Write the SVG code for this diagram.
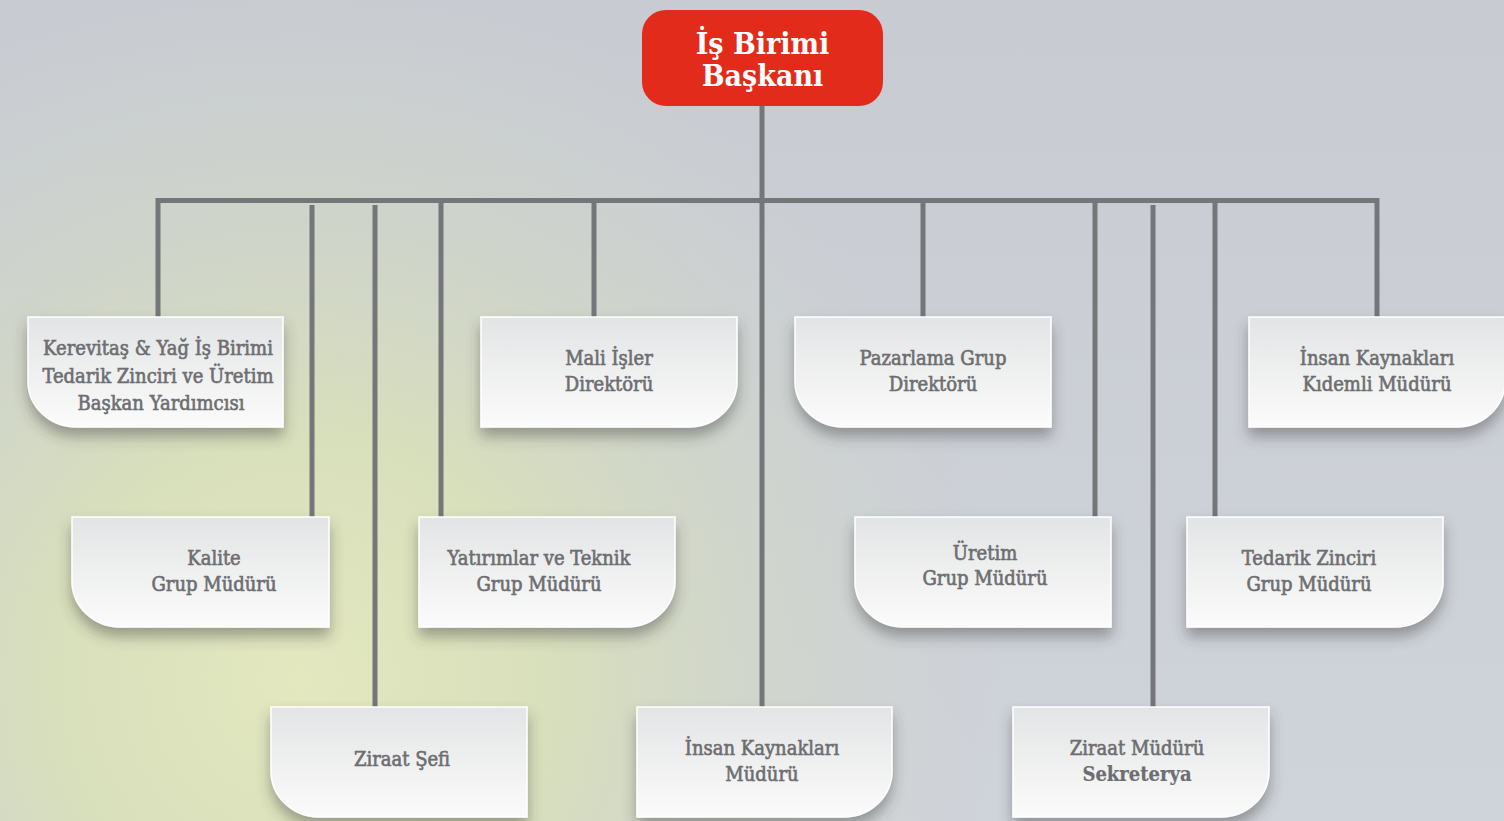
<svg xmlns="http://www.w3.org/2000/svg" width="1504" height="821" viewBox="0 0 1504 821">
<defs>
<linearGradient id="bgBase" x1="0" y1="0" x2="0" y2="1">
<stop offset="0" stop-color="#c8ccd2"/>
<stop offset="1" stop-color="#cfd3da"/>
</linearGradient>
<radialGradient id="bgGreen" cx="300" cy="680" r="700" gradientUnits="userSpaceOnUse">
<stop offset="0" stop-color="#e3e8bf" stop-opacity="1"/>
<stop offset="0.35" stop-color="#d9e0ba" stop-opacity="0.95"/>
<stop offset="0.7" stop-color="#d2d8c4" stop-opacity="0.5"/>
<stop offset="1" stop-color="#d0d5cc" stop-opacity="0"/>
</radialGradient>
<linearGradient id="boxFill" x1="0" y1="0" x2="0" y2="1">
<stop offset="0" stop-color="#e3e4e5"/>
<stop offset="1" stop-color="#fbfbfb"/>
</linearGradient>
<filter id="shadow" x="-20%" y="-20%" width="140%" height="160%">
<feDropShadow dx="0" dy="9" stdDeviation="7" flood-color="#3a3a3a" flood-opacity="0.42"/>
</filter>
</defs>
<style>
.box{fill:url(#boxFill);stroke:#ffffff;stroke-width:1.5;filter:url(#shadow);}
.lbl{font-family:"DejaVu Serif Condensed","DejaVu Serif",serif;font-stretch:condensed;font-size:20px;fill:#6d6e71;stroke:#6d6e71;stroke-width:0.6;text-anchor:middle;font-weight:normal;}
.b{font-weight:bold;stroke-width:0.2;}
.conn{stroke:#75767a;stroke-width:5;fill:none;}
.top{fill:#e32b1c;}
.toplbl{font-family:"DejaVu Serif Condensed","DejaVu Serif",serif;font-stretch:condensed;font-size:30px;fill:#ffffff;text-anchor:middle;font-weight:bold;}
</style>
<rect x="0" y="0" width="1504" height="821" fill="url(#bgBase)"/>
<rect x="0" y="0" width="1504" height="821" fill="url(#bgGreen)"/>

<g id="connectors">
<path class="conn" d="M762 106 V707"/>
<path class="conn" d="M158 317 V200.5 H1377 V317"/>
<path class="conn" d="M312 205 V517"/>
<path class="conn" d="M375 205 V707"/>
<path class="conn" d="M441 200 V517"/>
<path class="conn" d="M594 200 V317"/>
<path class="conn" d="M923 200 V317"/>
<path class="conn" d="M1095 200 V517"/>
<path class="conn" d="M1153 205 V707"/>
<path class="conn" d="M1215 200 V517"/>
</g>

<g id="n-baskan">
<rect class="top" x="642" y="10" width="241" height="96" rx="24"/>
<text class="toplbl" x="762.5" y="54">İş Birimi</text>
<text class="toplbl" x="762.5" y="86">Başkanı</text>
</g>

<g id="n-kerevitas">
<path class="box" d="M28 317 H283 V427 H76 A48 46 0 0 1 28 381 Z"/>
<text class="lbl" x="158" y="355">Kerevitaş &amp; Yağ İş Birimi</text>
<text class="lbl" x="158" y="383">Tedarik Zinciri ve Üretim</text>
<text class="lbl" x="161" y="410">Başkan Yardımcısı</text>
</g>

<g id="n-mali">
<path class="box" d="M481 317 H737 V381 A48 46 0 0 1 689 427 H481 Z"/>
<text class="lbl" x="609" y="365">Mali İşler</text>
<text class="lbl" x="609" y="391">Direktörü</text>
</g>

<g id="n-pazarlama">
<path class="box" d="M795 317 H1051 V427 H843 A48 46 0 0 1 795 381 Z"/>
<text class="lbl" x="933" y="365">Pazarlama Grup</text>
<text class="lbl" x="933" y="391">Direktörü</text>
</g>

<g id="n-ik-kidemli">
<path class="box" d="M1249 317 H1505 V381 A48 46 0 0 1 1457 427 H1249 Z"/>
<text class="lbl" x="1377" y="365">İnsan Kaynakları</text>
<text class="lbl" x="1377" y="391">Kıdemli Müdürü</text>
</g>

<g id="n-kalite">
<path class="box" d="M72 517 H329 V627 H120 A48 46 0 0 1 72 581 Z"/>
<text class="lbl" x="214" y="565">Kalite</text>
<text class="lbl" x="214" y="591">Grup Müdürü</text>
</g>

<g id="n-yatirimlar">
<path class="box" d="M419 517 H675 V581 A48 46 0 0 1 627 627 H419 Z"/>
<text class="lbl" x="539" y="565">Yatırımlar ve Teknik</text>
<text class="lbl" x="539" y="591">Grup Müdürü</text>
</g>

<g id="n-uretim">
<path class="box" d="M855 517 H1111 V627 H903 A48 46 0 0 1 855 581 Z"/>
<text class="lbl" x="985" y="560">Üretim</text>
<text class="lbl" x="985" y="585">Grup Müdürü</text>
</g>

<g id="n-tedarik">
<path class="box" d="M1187 517 H1443 V581 A48 46 0 0 1 1395 627 H1187 Z"/>
<text class="lbl" x="1309" y="565">Tedarik Zinciri</text>
<text class="lbl" x="1309" y="591">Grup Müdürü</text>
</g>

<g id="n-ziraat-sefi">
<path class="box" d="M271 707 H527 V817 H319 A48 46 0 0 1 271 771 Z"/>
<text class="lbl" x="402" y="766">Ziraat Şefi</text>
</g>

<g id="n-ik-muduru">
<path class="box" d="M637 707 H892 V771 A48 46 0 0 1 844 817 H637 Z"/>
<text class="lbl" x="762" y="755">İnsan Kaynakları</text>
<text class="lbl" x="762" y="781">Müdürü</text>
</g>

<g id="n-ziraat-muduru">
<path class="box" d="M1013 707 H1269 V771 A48 46 0 0 1 1221 817 H1013 Z"/>
<text class="lbl" x="1137" y="755">Ziraat Müdürü</text>
<text class="lbl b" x="1137" y="781">Sekreterya</text>
</g>
</svg>
